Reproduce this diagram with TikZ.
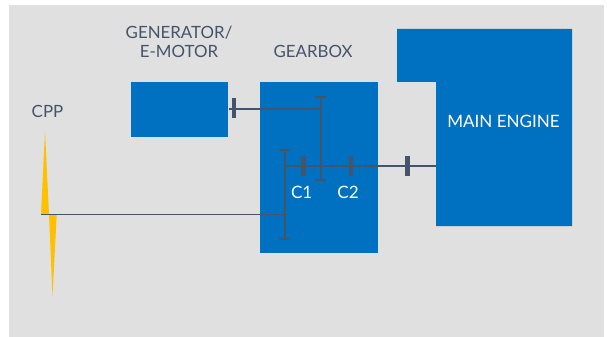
\documentclass[tikz,border=0pt]{standalone}
\usepackage{fontspec}
\setmainfont{Lato}
\definecolor{panelgrey}{HTML}{E0E0E0}
\definecolor{blockblue}{HTML}{0070C0}
\definecolor{shaftgrey}{HTML}{44546A}
\definecolor{bladeyellow}{HTML}{FFC000}
\tikzset{
	block/.style={shape=rectangle,fill=blockblue,inner sep=0,anchor=north west},
	title/.style={shape=rectangle,color=shaftgrey,font=\fontsize{9.6}{10.8}\selectfont,align=center},
	inlabel/.style={shape=rectangle,color=white,font=\fontsize{9.7}{12}\selectfont},
	shaft/.style={color=shaftgrey,line width=1.1pt},
	thinshaft/.style={color=shaftgrey,line width=0.8pt},
	clutch/.style={color=shaftgrey,line width=2.6pt}
}
\begin{document}
\begin{tikzpicture}[x=0.02cm,y=-0.02cm]
	\useasboundingbox (0,0) rectangle (607,337);
	\fill[white] (0,0) rectangle (607,337);
	\fill[panelgrey] (9,5) rectangle (604,337);
	\node[block,minimum width=1.94cm,minimum height=1.1cm](generator) at (131,82) {};
	\node[block,minimum width=2.36cm,minimum height=3.42cm](gearbox) at (259.3,81.5) {};
	\fill[blockblue] (397,29) -- (572,29) -- (572,226) -- (436,226) -- (436,82) -- (397,82) -- cycle;
	\coordinate (enginein) at (436,166);
	\coordinate (hubtop) at (320.7,108.7);
	\coordinate (gearatop) at (320.7,96.7);
	\coordinate (gearabot) at (320.7,180);
	\coordinate (gearbtop) at (284.7,150.3);
	\coordinate (gearbbot) at (284.7,239.3);
	\coordinate (gearbin) at (284.7,166);
	\coordinate (gearbout) at (284.7,214.7);
	\coordinate (prophub) at (41,214.7);
	\fill[bladeyellow] (45,131) -- (49,214.7) -- (41,214.7) -- cycle;
	\fill[bladeyellow] (52.5,296) -- (56.7,214.7) -- (49,214.7) -- cycle;
	\draw[thinshaft] (prophub) -- (gearbout);
	\draw[shaft] (generator.east |- hubtop) -- (hubtop);
	\draw[shaft] (gearbin) -- (enginein);
	\draw[shaft] (gearatop) -- (gearabot);
	\draw[shaft] (gearbtop) -- (gearbbot);
	\foreach \capname in {gearatop,gearabot,gearbtop,gearbbot}
		\draw[shaft] ([xshift=-0.11cm]\capname) -- ([xshift=0.11cm]\capname);
	\draw[clutch] (234,98) -- (234,118);
	\draw[clutch] (303.7,156) -- (303.7,176);
	\draw[clutch] (351,156) -- (351,176);
	\draw[clutch] (407.3,156) -- (407.3,176);
	\node[title](cpp) at (47.5,111) {CPP};
	\node[title](gentitle) at (179,41.5) {GENERATOR/\\E-MOTOR};
	\node[title](boxtitle) at (313,51) {GEARBOX};
	\node[inlabel](engine) at (503.5,121) {MAIN ENGINE};
	\node[inlabel](cone) at (301.7,192) {C1};
	\node[inlabel](ctwo) at (348,192) {C2};
\end{tikzpicture}
\end{document}
